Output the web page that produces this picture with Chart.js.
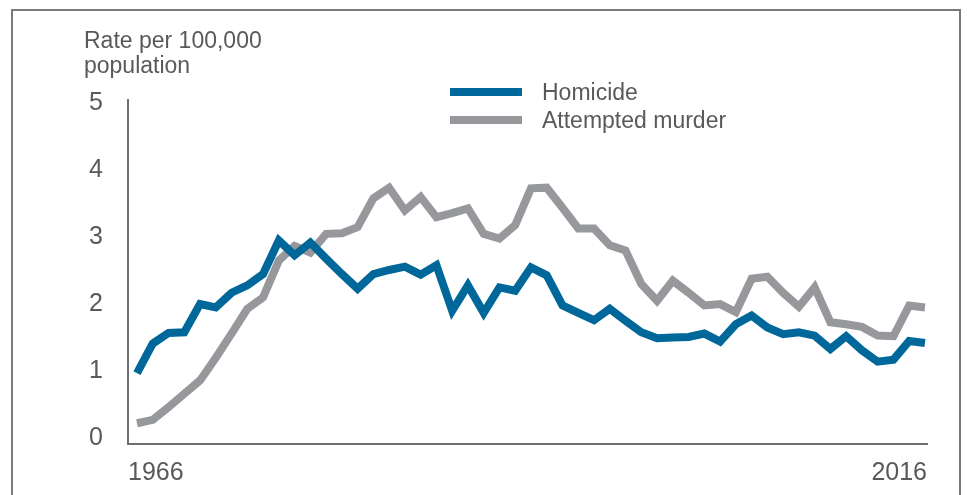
<!DOCTYPE html>
<html>
<head>
<meta charset="utf-8">
<script src="https://cdn.jsdelivr.net/npm/chart.js@4/dist/chart.umd.min.js"></script>
<style>
  html, body { margin: 0; padding: 0; background: #fff; }
  #wrap { position: relative; width: 967px; height: 495px; overflow: hidden; font-family: "Liberation Sans", Arial, sans-serif; color: #58595b; }
  #frame { position: absolute; left: 11px; top: 9px; width: 950px; height: 520px; border: 2px solid #7a7a7a; box-sizing: border-box; }
  #ytitle { position: absolute; left: 84px; top: 28px; font-size: 23px; line-height: 25px; }
  #legend { position: absolute; left: 450px; top: 78px; font-size: 23px; }
  #legend .item { display: flex; align-items: center; height: 28px; }
  #legend .swatch { width: 72px; height: 8px; margin-right: 20px; }
  canvas { position: absolute; left: 0; top: 0; }
</style>
</head>
<body>
<div id="wrap">
  <div id="frame"></div>
  <canvas id="chart" width="967" height="495"></canvas>
  <div id="ytitle">Rate per 100,000<br>population</div>
  <div id="legend"></div>
</div>
<script>
const years = [];
for (let y = 1966; y <= 2016; y++) years.push(y);

const homicide = [
  0.97, 1.41, 1.57, 1.58, 2.00, 1.95, 2.17, 2.28, 2.45, 2.95,
  2.73, 2.92, 2.68, 2.45, 2.23, 2.45, 2.51, 2.56, 2.44, 2.58,
  1.90, 2.28, 1.87, 2.25, 2.20, 2.55, 2.43, 1.98, 1.87, 1.76,
  1.93, 1.75, 1.58, 1.49, 1.50, 1.51, 1.56, 1.44, 1.70, 1.83,
  1.65, 1.55, 1.58, 1.53, 1.33, 1.52, 1.31, 1.14, 1.17, 1.45,
  1.42
];

const attempted = [
  0.22, 0.27, 0.46, 0.66, 0.86, 1.20, 1.56, 1.93, 2.10, 2.65,
  2.87, 2.77, 3.05, 3.06, 3.15, 3.58, 3.74, 3.40, 3.60, 3.30,
  3.36, 3.43, 3.05, 2.98, 3.18, 3.73, 3.74, 3.44, 3.13, 3.13,
  2.88, 2.80, 2.30, 2.05, 2.35, 2.17, 1.98, 2.00, 1.88, 2.38,
  2.41, 2.17, 1.96, 2.25, 1.73, 1.70, 1.66, 1.53, 1.52, 1.98,
  1.95
];

const yTicks = [0, 1, 2, 3, 4, 5];
const seriesNames = ['Homicide', 'Attempted murder'];
const seriesColors = ['#00679a', '#97989b'];

const toPoints = (vals) => vals.map((v, i) => ({ x: years[i], y: v }));

const textColor = '#58595b';
const axisColor = '#6d6e70';

const chart = new Chart(document.getElementById('chart'), {
  type: 'line',
  data: {
    datasets: [
      { label: seriesNames[0], data: toPoints(homicide), borderColor: seriesColors[0] },
      { label: seriesNames[1], data: toPoints(attempted), borderColor: seriesColors[1] }
    ]
  },
  options: {
    responsive: false,
    animation: false,
    layout: { padding: { top: 100, right: 40, left: 0, bottom: 0 } },
    elements: {
      line: { borderWidth: 8, tension: 0, borderJoinStyle: 'miter', borderCapStyle: 'butt', fill: false },
      point: { radius: 0 }
    },
    plugins: { legend: { display: false }, tooltip: { enabled: false } },
    scales: {
      x: {
        type: 'linear',
        min: 1965.43,
        max: 2016.13,
        grid: { display: false, drawTicks: false },
        border: { color: axisColor, width: 2 },
        afterBuildTicks: (s) => { s.ticks = [{ value: s.min }, { value: s.max }]; },
        afterFit: (s) => { s.height = 51; },
        ticks: {
          align: 'inner',
          padding: 14,
          maxRotation: 0,
          color: textColor,
          font: { family: 'Liberation Sans', size: 25 },
          callback: (v, i) => i === 0 ? String(years[0]) : String(years[years.length - 1])
        }
      },
      y: {
        min: -0.09,
        max: 5.05,
        grid: { display: false, drawTicks: false },
        border: { color: axisColor, width: 2 },
        afterBuildTicks: (s) => { s.ticks = yTicks.map(v => ({ value: v })); },
        afterFit: (s) => { s.width = 128; },
        ticks: {
          padding: 25,
          color: textColor,
          font: { family: 'Liberation Sans', size: 25 }
        }
      }
    }
  }
});

// legend built from the datasets
const legend = document.getElementById('legend');
chart.data.datasets.forEach(ds => {
  const row = document.createElement('div');
  row.className = 'item';
  const sw = document.createElement('span');
  sw.className = 'swatch';
  sw.style.background = ds.borderColor;
  const label = document.createElement('span');
  label.textContent = ds.label;
  row.appendChild(sw);
  row.appendChild(label);
  legend.appendChild(row);
});
</script>
</body>
</html>
